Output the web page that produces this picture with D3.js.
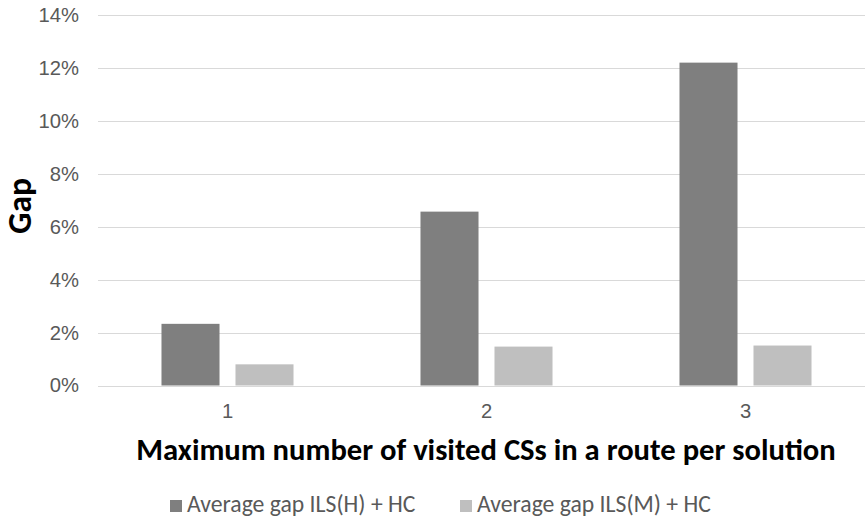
<!DOCTYPE html>
<html>
<head>
<meta charset="utf-8">
<script src="https://cdn.jsdelivr.net/npm/d3@7"></script>
<style>
  body { margin: 0; background: #fff; }
  svg { font-family: Carlito, Lato, "Open Sans", sans-serif; }
</style>
</head>
<body>
<div id="chart"></div>
<script>
// data
const categories = ["1", "2", "3"];
const seriesNames = ["Average gap ILS(H) + HC", "Average gap ILS(M) + HC"];
const gapH = [0.0233, 0.0657, 0.122];
const gapM = [0.0080, 0.0147, 0.0151];
const yTicks = [0, 0.02, 0.04, 0.06, 0.08, 0.10, 0.12, 0.14];
const colors = ["#7f7f7f", "#bfbfbf"];

const width = 865, height = 520;

const svg = d3.select("#chart").append("svg")
    .attr("width", width)
    .attr("height", height);

// Calibri isn't here, so size each text to the width it has in the picture
function fitWidth(sel, target) {
    const w = sel.node().getComputedTextLength();
    const fs = parseFloat(sel.attr("font-size"));
    return fs * target / w;
}

// plot area runs a bit past the right edge (like the original crop)
const x0 = d3.scaleBand().domain(categories).range([98, 875]);
const x1 = d3.scaleBand().domain(seriesNames)
    .range([0, x0.bandwidth()])
    .paddingInner(0.216)
    .paddingOuter(0.858);
const y = d3.scaleLinear().domain([0, 0.14]).range([385.5, 15]);

// gridlines
svg.append("g")
  .selectAll("line")
  .data(yTicks)
  .enter().append("line")
    .attr("x1", 98)
    .attr("x2", 875)
    .attr("y1", d => Math.round(y(d)) + 0.5)
    .attr("y2", d => Math.round(y(d)) + 0.5)
    .attr("stroke", "#d9d9d9")
    .attr("stroke-width", 1);

// work out tick font size from "14%"
let probe = svg.append("text").attr("font-size", 20).text("14%");
const tickSize = fitWidth(probe, 35);
probe.remove();

// y axis labels
const yAxis = d3.axisLeft(y).tickValues(yTicks).tickFormat(d3.format(".0%")).tickSize(0).tickPadding(0);
svg.append("g")
    .attr("transform", "translate(79,0)")
    .call(yAxis)
    .call(g => g.select(".domain").remove())
    .call(g => g.selectAll("text")
        .attr("fill", "#595959")
        .attr("font-size", tickSize)
        .attr("font-family", null));

// bars
const rows = categories.map((c, i) => ({cat: c, vals: [gapH[i], gapM[i]]}));
const groups = svg.append("g")
  .selectAll("g")
  .data(rows)
  .enter().append("g")
    .attr("transform", d => `translate(${x0(d.cat)},0)`);

groups.selectAll("rect")
  .data(d => d.vals.map((v, j) => ({name: seriesNames[j], v: v, j: j})))
  .enter().append("rect")
    .attr("x", d => x1(d.name))
    .attr("width", x1.bandwidth())
    .attr("y", d => y(d.v))
    .attr("height", d => y(0) - y(d.v))
    .attr("fill", d => colors[d.j]);

// x axis labels
const xAxis = d3.axisBottom(x0).tickSize(0).tickPadding(0);
svg.append("g")
    .attr("transform", "translate(0,404)")
    .call(xAxis)
    .call(g => g.select(".domain").remove())
    .call(g => g.selectAll("text")
        .attr("fill", "#595959")
        .attr("font-size", tickSize)
        .attr("font-family", null));

// axis titles
const xTitle = svg.append("text")
    .attr("x", 486)
    .attr("y", 460)
    .attr("text-anchor", "middle")
    .attr("font-size", 24)
    .attr("font-weight", "bold")
    .attr("fill", "#000")
    .text("Maximum number of visited CSs in a route per solution");
xTitle.attr("font-size", fitWidth(xTitle, 700));

const yTitle = svg.append("text")
    .attr("transform", "translate(31,206) rotate(-90)")
    .attr("text-anchor", "middle")
    .attr("font-size", 22)
    .attr("font-weight", "bold")
    .attr("fill", "#000")
    .text("Gap");
yTitle.attr("font-size", fitWidth(yTitle, 56));

// legend, centred under the chart
const legendX = [170, 460];
const legend = svg.append("g")
  .selectAll("g")
  .data(seriesNames)
  .enter().append("g")
    .attr("transform", (d, i) => `translate(${legendX[i]},500)`);

legend.append("rect")
    .attr("width", 12)
    .attr("height", 12)
    .attr("fill", (d, i) => colors[i]);

const legendText = legend.append("text")
    .attr("x", 17)
    .attr("y", 12)
    .attr("font-size", 20)
    .attr("fill", "#595959")
    .text(d => d);
const legendSize = fitWidth(d3.select(legendText.nodes()[1]), 234);
legendText.attr("font-size", legendSize);
</script>
</body>
</html>
